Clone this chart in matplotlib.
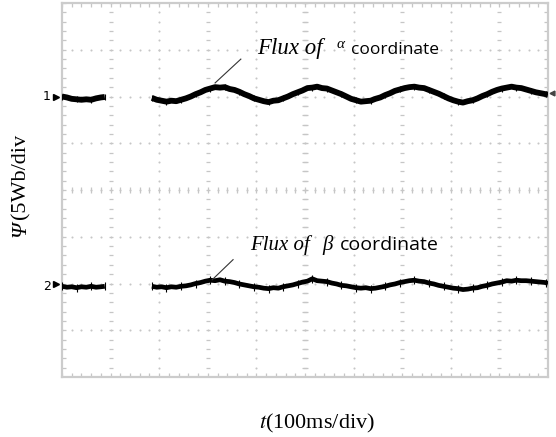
import numpy as np
import matplotlib
matplotlib.use("Agg")
import matplotlib.pyplot as plt

plt.rcParams['mathtext.fontset'] = 'stix'

# time axis in divisions (100 ms/div), trace levels in divisions (5 Wb/div)
t1_a = [0.0, 0.1, 0.2, 0.3, 0.4, 0.5, 0.6, 0.7, 0.8, 0.88]
psi_a1 = [6.00, 5.98, 5.95, 5.94, 5.93, 5.94, 5.93, 5.96, 5.98, 5.99]
psi_b1 = [1.94, 1.92, 1.93, 1.91, 1.93, 1.92, 1.94, 1.92, 1.93, 1.94]

t2 = [1.85, 1.95, 2.05, 2.15, 2.25, 2.35, 2.45, 2.55, 2.65, 2.75,
      2.85, 2.95, 3.05, 3.15, 3.25, 3.35, 3.45, 3.55, 3.65, 3.75,
      3.85, 3.95, 4.05, 4.15, 4.25, 4.35, 4.45, 4.55, 4.65, 4.75,
      4.85, 4.95, 5.05, 5.15, 5.25, 5.35, 5.45, 5.55, 5.65, 5.75,
      5.85, 5.95, 6.05, 6.15, 6.25, 6.35, 6.45, 6.55, 6.65, 6.75,
      6.85, 6.95, 7.05, 7.15, 7.25, 7.35, 7.45, 7.55, 7.65, 7.75,
      7.85, 7.95, 8.05, 8.15, 8.25, 8.35, 8.45, 8.55, 8.65, 8.75,
      8.85, 8.95, 9.05, 9.15, 9.25, 9.35, 9.45, 9.55, 9.65, 9.75,
      9.85, 9.95, 10.0]
psi_a2 = [5.97, 5.93, 5.91, 5.89, 5.91, 5.90, 5.93, 5.96, 6.00, 6.05,
          6.09, 6.14, 6.17, 6.20, 6.19, 6.20, 6.16, 6.14, 6.10, 6.05,
          6.01, 5.96, 5.93, 5.90, 5.88, 5.91, 5.92, 5.96, 6.00, 6.05,
          6.09, 6.13, 6.18, 6.19, 6.21, 6.18, 6.17, 6.13, 6.09, 6.05,
          6.00, 5.95, 5.92, 5.89, 5.90, 5.91, 5.95, 5.98, 6.03, 6.07,
          6.12, 6.15, 6.18, 6.20, 6.21, 6.19, 6.18, 6.14, 6.10, 6.06,
          6.01, 5.96, 5.92, 5.89, 5.87, 5.90, 5.92, 5.96, 6.01, 6.05,
          6.10, 6.14, 6.17, 6.19, 6.21, 6.19, 6.18, 6.15, 6.12, 6.09,
          6.07, 6.05, 6.04]
psi_b2 = [1.94, 1.92, 1.93, 1.91, 1.93, 1.92, 1.94, 1.95, 1.97, 2.00,
          2.02, 2.05, 2.07, 2.06, 2.08, 2.05, 2.04, 2.02, 1.99, 1.97,
          1.95, 1.93, 1.92, 1.90, 1.89, 1.91, 1.90, 1.93, 1.95, 1.97,
          2.00, 2.03, 2.05, 2.10, 2.06, 2.05, 2.04, 2.01, 1.99, 1.96,
          1.95, 1.93, 1.91, 1.90, 1.91, 1.89, 1.90, 1.92, 1.94, 1.97,
          1.99, 2.02, 2.04, 2.06, 2.07, 2.05, 2.04, 2.01, 1.99, 1.96,
          1.94, 1.92, 1.90, 1.89, 1.87, 1.88, 1.90, 1.91, 1.94, 1.96,
          1.99, 2.01, 2.03, 2.06, 2.05, 2.07, 2.06, 2.06, 2.05, 2.04,
          2.03, 2.02, 2.00]

W, H = 556, 437
fig = plt.figure(figsize=(W / 100, H / 100), dpi=100)
ax = fig.add_axes([62 / W, 60 / H, 486 / W, 374 / H])
ax.set_xlim(0, 10)
ax.set_ylim(0, 8)
ax.set_xticks([])
ax.set_yticks([])
for s in ax.spines.values():
    s.set_color('#cccccc')
    s.set_linewidth(1.6)

# scope graticule: dotted divisions with 0.2 div sub-ticks
grid_c = '#c6c6c6'
sub_x = np.arange(0, 10.001, 0.2)
sub_y = np.arange(0, 8.001, 0.2)
for gx in range(1, 10):
    if gx % 2:
        ax.plot(np.full_like(sub_y, gx), sub_y, ls='none', marker='_', ms=3,
                mew=0.9, color=grid_c)
    else:
        ax.plot(np.full_like(sub_y, gx), sub_y, ls='none', marker='o', ms=1.5,
                mew=0, color=grid_c)
for gy in range(1, 8):
    ax.plot(sub_x, np.full_like(sub_x, gy), ls='none', marker='o', ms=1.5,
            mew=0, color=grid_c)
ax.plot(sub_x, np.full_like(sub_x, 4), ls='none', marker='|', ms=4, mew=0.9, color=grid_c)
ax.plot(np.full_like(sub_y, 5), sub_y, ls='none', marker='_', ms=4.5, mew=0.9, color=grid_c)
# border sub-ticks
ax.plot(sub_x, np.full_like(sub_x, 0.04), ls='none', marker='|', ms=3.5, mew=0.9, color=grid_c)
ax.plot(sub_x, np.full_like(sub_x, 7.96), ls='none', marker='|', ms=3.5, mew=0.9, color=grid_c)
ax.plot(np.full_like(sub_y, 0.05), sub_y, ls='none', marker='_', ms=3.5, mew=0.9, color=grid_c)
ax.plot(np.full_like(sub_y, 9.95), sub_y, ls='none', marker='_', ms=3.5, mew=0.9, color=grid_c)

# traces
for tt, yy, lw, ms in [(t1_a, psi_a1, 4.2, 5), (t2, psi_a2, 4.2, 5),
                       (t1_a, psi_b1, 3.4, 6), (t2, psi_b2, 3.4, 6)]:
    ax.plot(tt, yy, color='black', lw=lw, solid_capstyle='butt', zorder=5)
    ax.plot(tt[::3], yy[::3], ls='none', marker='|', ms=ms, mew=0.8, color='black', zorder=5)

# channel markers
ax.plot([-0.12], [6.0], marker='>', ms=4, color='black', clip_on=False)
ax.plot([-0.12], [2.0], marker='>', ms=4, color='black', clip_on=False)
fig.text(47 / W, 1 - 97 / H, '1', fontsize=9, ha='center', va='center', color='black')
fig.text(47 / W, 1 - 287 / H, '2', fontsize=9, ha='center', va='center', color='black')
ax.plot([10.08], [6.08], marker='<', ms=3.5, color='#444444', clip_on=False)

# annotation pointers
ax.plot([3.15, 3.68], [6.29, 6.80], color='#333333', lw=0.8, zorder=6)
ax.plot([3.09, 3.52], [2.08, 2.51], color='#333333', lw=0.8, zorder=6)

serif = 'Liberation Serif'
sans = 'Open Sans'
fig.text(257 / W, 1 - 54 / H, 'Flux of', fontsize=16.5, family=serif, style='italic',
         ha='left', va='baseline')
fig.text(337 / W, 1 - 48 / H, 'α', fontsize=11, family=serif, style='italic',
         ha='left', va='baseline')
fig.text(351 / W, 1 - 54 / H, 'coordinate', fontsize=12.5, family=sans,
         ha='left', va='baseline')

fig.text(250 / W, 1 - 250 / H, 'Flux of', fontsize=15, family=serif, style='italic',
         ha='left', va='baseline')
fig.text(322 / W, 1 - 250 / H, 'β', fontsize=15, family=serif, style='italic',
         ha='left', va='baseline')
fig.text(340 / W, 1 - 250 / H, 'coordinate', fontsize=14, family=sans,
         ha='left', va='baseline')

# axis labels
fig.text(317 / W, 1 - 423 / H, r'$t$(100ms/div)', fontsize=16, family=serif,
         ha='center', va='center')
fig.text(21 / W, 1 - 237 / H, 'Ψ', fontsize=16, family=serif, style='italic',
         rotation=90, ha='center', va='bottom')
fig.text(21 / W, 1 - 219 / H, '(5Wb/div', fontsize=16, family=serif,
         rotation=90, ha='center', va='bottom')

fig.savefig('out.png', dpi=100)
